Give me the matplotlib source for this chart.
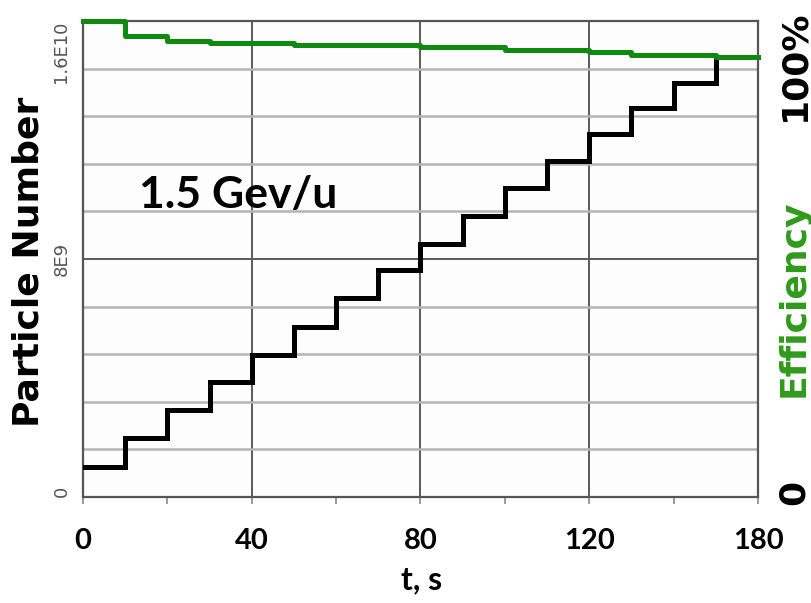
import matplotlib
matplotlib.use("Agg")
import matplotlib.pyplot as plt
import numpy as np

# ---- data ----
t_particles = [0, 10, 20, 30, 40, 50, 60, 70, 80, 90, 100, 110, 120, 130, 140, 150]
particles = [1.01e9, 1.98e9, 2.92e9, 3.87e9, 4.77e9, 5.71e9, 6.69e9, 7.63e9,
             8.50e9, 9.45e9, 10.39e9, 11.29e9, 12.20e9, 13.08e9, 13.92e9, 14.79e9]

t_eff = [0, 10, 20, 30, 50, 80, 100, 120, 130, 150, 160]
efficiency = [100.0, 96.85, 95.86, 95.44, 95.0, 94.6, 93.97, 93.55, 92.86, 92.5, 92.5]

x_ticks = [0, 40, 80, 120, 160]
x_tick_labels = ["0", "40", "80", "120", "180"]
x_minor = [20, 60, 100, 140]
y_ticks = [0, 8e9, 1.6e10]
y_tick_labels = ["0", "8E9", "1.6E10"]
y_grid = [1.6e9 * i for i in range(1, 10)]

W, H = 812, 603
fig = plt.figure(figsize=(W / 100, H / 100), dpi=100)
fig.patch.set_facecolor("white")

left, right, bottom, top = 83, 758, 497, 21
ax = fig.add_axes([left / W, 1 - bottom / H, (right - left) / W, (bottom - top) / H])
ax.set_facecolor("#fcfdfc")
ax.set_xlim(0, 160)
ax.set_ylim(0, 1.6e10)

# grid
ax.set_yticks(y_ticks)
ax.set_yticks(y_grid, minor=True)
ax.set_xticks(x_ticks)
ax.set_xticks(x_minor, minor=True)
ax.grid(True, which="major", color="#5a5a5a", lw=1.4, zorder=1)
ax.yaxis.grid(True, which="minor", color="#b4b4b4", lw=1.8, zorder=1)
ax.set_axisbelow(True)

for s in ax.spines.values():
    s.set_color("#555555")
    s.set_linewidth(1.6)

# x ticks
ax.tick_params(axis="x", which="both", length=5, color="#888888", width=1.2,
               direction="out", pad=17)
ax.set_xticklabels(x_tick_labels, fontsize=21, fontweight="bold", family="Lato")
# y ticks
ax.tick_params(axis="y", which="both", length=0, pad=9)
ax.set_yticklabels(y_tick_labels, rotation=90, fontsize=13, color="#555555",
                   family="DejaVu Sans")
ylabels = ax.get_yticklabels()
ylabels[0].set_va("bottom")
ylabels[1].set_va("center")
ylabels[2].set_va("top")

# data
ax.step(t_particles, particles, where="post", color="black", lw=3.6, zorder=3,
        solid_joinstyle="miter")

ax2 = ax.twinx()
ax2.set_ylim(0, 100)
ax2.set_yticks([])
for s in ax2.spines.values():
    s.set_visible(False)
ax2.step(t_eff, efficiency, where="post", color="#0f8a0f", lw=3.6, zorder=3,
         clip_on=False)

# texts
def fx(px):
    return px / W

def fy(py):
    return 1 - py / H

fig.text(fx(29), fy(262), "Particle Number", rotation=90, ha="center", va="center",
         fontsize=26, fontweight="bold", family="DejaVu Sans", color="black")
fig.text(fx(794), fy(65), "100%", rotation=90, ha="center", va="center",
         fontsize=26, fontweight="bold", family="DejaVu Sans", color="black")
fig.text(fx(794), fy(298), "Efficiency", rotation=90, ha="center", va="center",
         fontsize=26, fontweight="bold", family="DejaVu Sans", color="#2e9a1a")
fig.text(fx(794), fy(492), "0", rotation=90, ha="center", va="center",
         fontsize=26, fontweight="bold", family="DejaVu Sans", color="black")
fig.text(fx(238), fy(195), "1.5 Gev/u", ha="center", va="center",
         fontsize=32, fontweight="bold", family="Lato", color="black")
fig.text(fx(422), fy(580), "t, s", ha="center", va="center",
         fontsize=23, fontweight="bold", family="Lato", color="black")

fig.savefig("out.png", dpi=100, facecolor="white")
